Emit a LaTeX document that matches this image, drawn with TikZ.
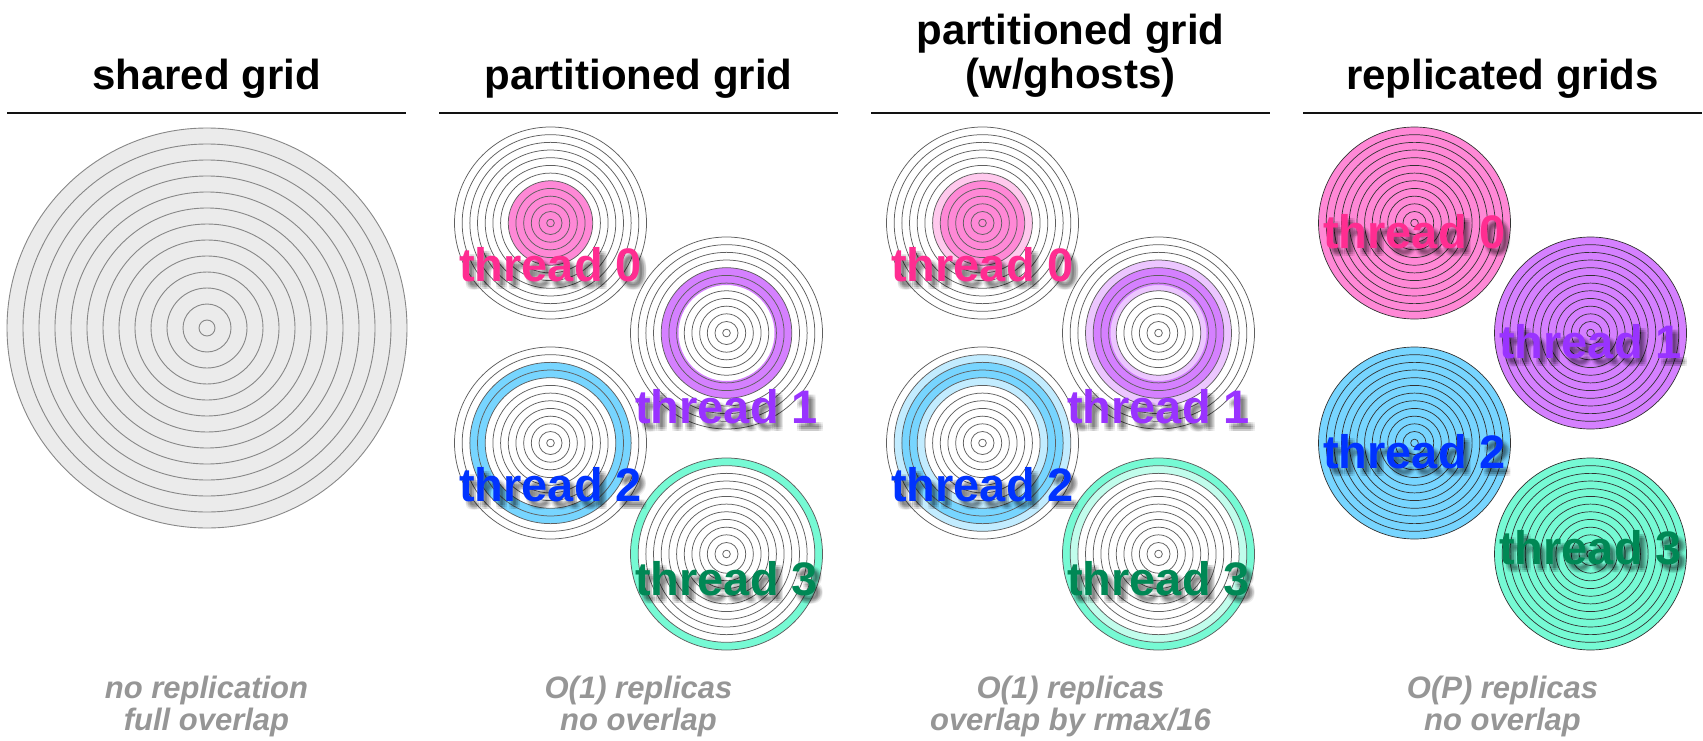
\documentclass[tikz,border=0pt]{standalone}
\usepackage{fontspec}
\setmainfont{Liberation Sans}

\definecolor{gridfill}{RGB}{235,235,235}
\definecolor{gridline}{RGB}{135,135,135}
\definecolor{ringline}{RGB}{95,95,95}
\definecolor{replline}{RGB}{50,50,50}
\definecolor{fillA}{RGB}{255,136,214}
\definecolor{fillB}{RGB}{213,128,255}
\definecolor{fillC}{RGB}{119,213,255}
\definecolor{fillD}{RGB}{118,250,212}
\definecolor{textA}{RGB}{255,45,145}
\definecolor{textB}{RGB}{153,51,255}
\definecolor{textC}{RGB}{0,51,255}
\definecolor{textD}{RGB}{0,136,85}
\definecolor{captiongray}{RGB}{150,150,150}

% 13 concentric rings, radius (k+1/2)*spacing
\newcommand{\ringset}[4]{%
  \foreach \k in {0,...,12}{\draw[#4] (#1,#2) circle[radius={(\k+0.5)*#3pt}];}}
% filled annulus between two radii (pt)
\newcommand{\band}[5]{%
  \fill[#5, even odd rule] (#1,#2) circle[radius=#4pt] (#1,#2) circle[radius=#3pt];}
% bold thread label with a soft drop shadow
\newcommand{\threadlabel}[5]{%
  \foreach \dx/\dy in {3/4,5/4,7/4,3/6,5/6,7/6,3/8,5/8,7/8}{%
    \node[lbl, text=black, opacity=0.07] at ({#2+\dx},{#3+\dy}) {#5};}
  \node[lbl, text=#4] (#1) at (#2,#3) {#5};}

\tikzset{
  title/.style={font=\fontsize{42}{44}\selectfont\bfseries, anchor=base, inner sep=0pt},
  caption/.style={font=\fontsize{31}{32}\selectfont\bfseries\itshape, text=captiongray, anchor=base, inner sep=0pt},
  lbl/.style={font=\fontsize{47}{50}\selectfont\bfseries, anchor=base, inner sep=0pt},
  rule/.style={line width=2.8pt, draw=black!93},
  sharedring/.style={draw=gridline, line width=0.9pt},
  smallring/.style={draw=ringline, line width=0.75pt},
  replring/.style={draw=replline, line width=0.7pt},
}

\begin{document}
\begin{tikzpicture}[x=1pt, y=-1pt]
\useasboundingbox (0,0) rectangle (1703,741);

% ---------- column headings ----------
\node[title] (t0) at (206.5,90) {shared grid};
\node[title] (t1) at (638.5,90) {partitioned grid};
\node[title] (t2a) at (1070.5,45) {partitioned grid};
\node[title] (t2b) at (1070.5,89) {(w/ghosts)};
\node[title] (t3) at (1502.5,90) {replicated grids};
\draw[rule] (7,113) -- (406,113);
\draw[rule] (439,113) -- (838,113);
\draw[rule] (871,113) -- (1270,113);
\draw[rule] (1303,113) -- (1702,113);

% ---------- shared grid ----------
\fill[gridfill] (207,328) circle[radius=200pt];
\ringset{207}{328}{16}{sharedring}

% ---------- partitioned grid ----------
\band{550.5}{223}{0.01}{42.24}{fillA}
\band{726.5}{333}{48}{65.28}{fillB}
\band{550.5}{443}{65.28}{80.64}{fillC}
\band{726.5}{554}{88.32}{96}{fillD}
\ringset{550.5}{223}{7.68}{smallring}
\ringset{726.5}{333}{7.68}{smallring}
\ringset{550.5}{443}{7.68}{smallring}
\ringset{726.5}{554}{7.68}{smallring}

% ---------- partitioned grid with ghost cells ----------
\band{982.5}{223}{0.01}{49.92}{fillA!45}
\band{982.5}{223}{0.01}{42.24}{fillA}
\band{1158.5}{333}{42.24}{72.96}{fillB!45}
\band{1158.5}{333}{48}{65.28}{fillB}
\band{982.5}{443}{57.6}{88.32}{fillC!45}
\band{982.5}{443}{65.28}{80.64}{fillC}
\band{1158.5}{554}{80.64}{96}{fillD!45}
\band{1158.5}{554}{88.32}{96}{fillD}
\ringset{982.5}{223}{7.68}{smallring}
\ringset{1158.5}{333}{7.68}{smallring}
\ringset{982.5}{443}{7.68}{smallring}
\ringset{1158.5}{554}{7.68}{smallring}

% ---------- replicated grids ----------
\fill[fillA] (1414.5,223) circle[radius=96pt];
\fill[fillB] (1590.5,333) circle[radius=96pt];
\fill[fillC] (1414.5,443) circle[radius=96pt];
\fill[fillD] (1590.5,554) circle[radius=96pt];
\ringset{1414.5}{223}{7.68}{replring}
\ringset{1590.5}{333}{7.68}{replring}
\ringset{1414.5}{443}{7.68}{replring}
\ringset{1590.5}{554}{7.68}{replring}

% ---------- thread labels ----------
\threadlabel{pA}{550.5}{281}{textA}{thread 0}
\threadlabel{pB}{726.5}{423}{textB}{thread 1}
\threadlabel{pC}{550.5}{501}{textC}{thread 2}
\threadlabel{pD}{726.5}{595}{textD}{thread 3}

\threadlabel{gA}{982.5}{281}{textA}{thread 0}
\threadlabel{gB}{1158.5}{423}{textB}{thread 1}
\threadlabel{gC}{982.5}{501}{textC}{thread 2}
\threadlabel{gD}{1158.5}{595}{textD}{thread 3}

\threadlabel{rA}{1414.5}{248}{textA}{thread 0}
\threadlabel{rB}{1590.5}{358}{textB}{thread 1}
\threadlabel{rC}{1414.5}{468}{textC}{thread 2}
\threadlabel{rD}{1590.5}{564}{textD}{thread 3}

% ---------- captions ----------
\node[caption] (c0a) at (206.5,698) {no replication};
\node[caption] (c0b) at (206.5,730) {full overlap};
\node[caption] (c1a) at (638.5,698) {O(1) replicas};
\node[caption] (c1b) at (638.5,730) {no overlap};
\node[caption] (c2a) at (1070.5,698) {O(1) replicas};
\node[caption] (c2b) at (1070.5,730) {overlap by rmax/16};
\node[caption] (c3a) at (1502.5,698) {O(P) replicas};
\node[caption] (c3b) at (1502.5,730) {no overlap};
\end{tikzpicture}
\end{document}
